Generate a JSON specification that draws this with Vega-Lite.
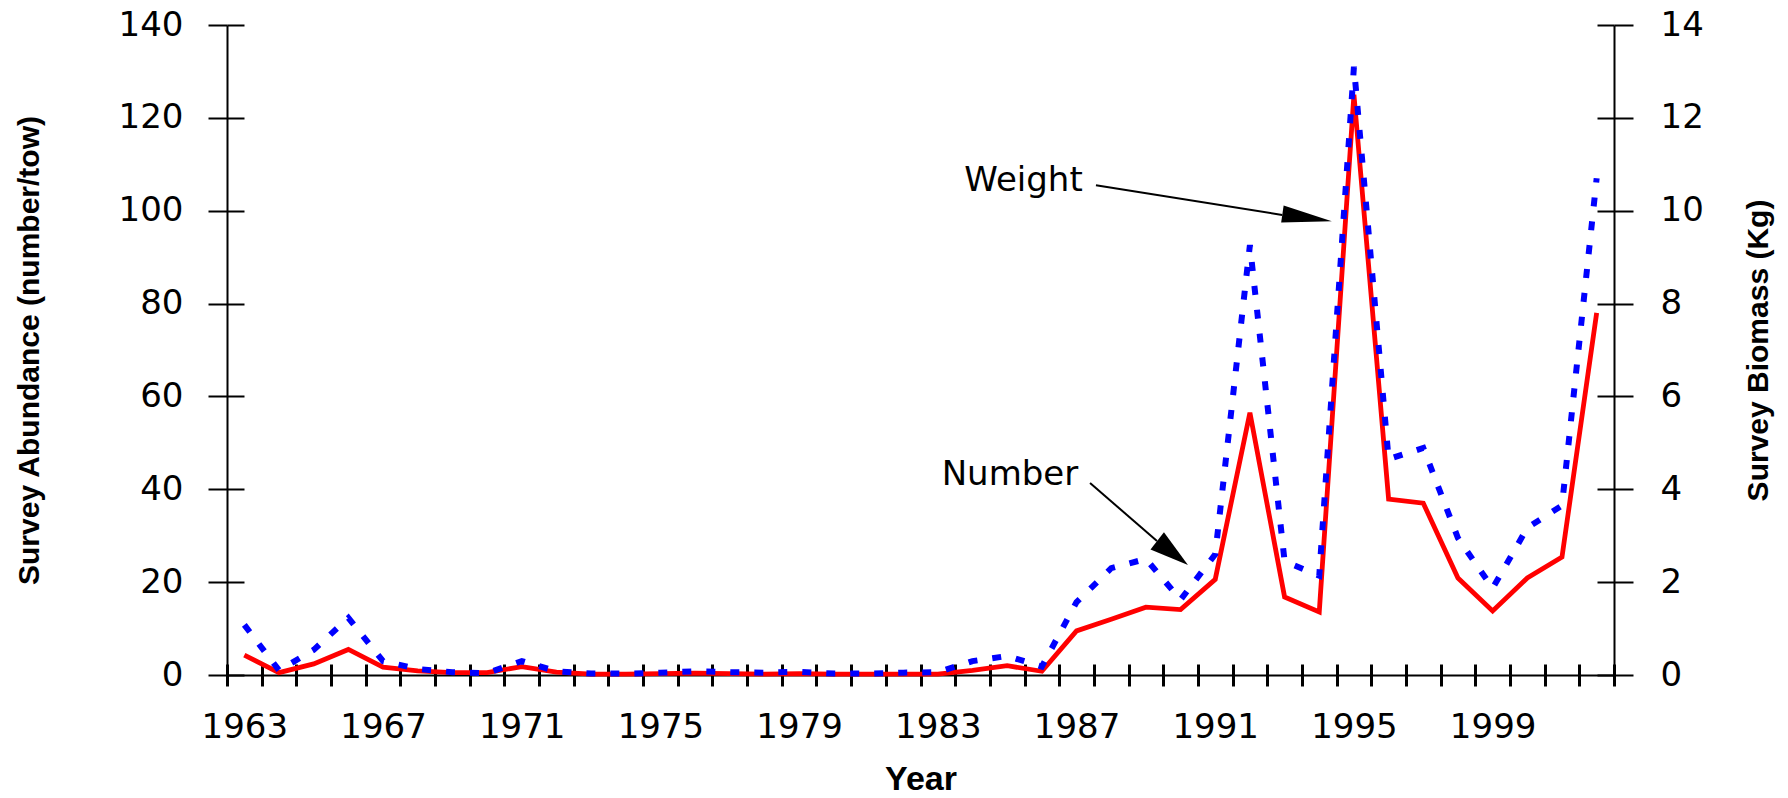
{
  "$schema": "https://vega.github.io/schema/vega-lite/v6.json",
  "width": 1387,
  "height": 650,
  "autosize": {"type": "none"},
  "padding": {"left": 227, "top": 25, "right": 174, "bottom": 123},
  "background": "white",
  "config": {
    "view": {"stroke": null},
    "axis": {"grid": false, "domainColor": "black", "tickColor": "black", "labelColor": "black", "titleColor": "black", "labelFont": "DejaVu Sans", "titleFont": "Liberation Sans", "labelFlush": false}
  },
  "datasets": {
    "survey": [
      {"year": 1963, "number": 4.3, "weight": 1.08},
      {"year": 1964, "number": 0.5, "weight": 0.1},
      {"year": 1965, "number": 2.4, "weight": 0.54},
      {"year": 1966, "number": 5.5, "weight": 1.23},
      {"year": 1967, "number": 1.7, "weight": 0.3},
      {"year": 1968, "number": 0.9, "weight": 0.13},
      {"year": 1969, "number": 0.5, "weight": 0.06},
      {"year": 1970, "number": 0.5, "weight": 0.04},
      {"year": 1971, "number": 1.8, "weight": 0.3},
      {"year": 1972, "number": 0.6, "weight": 0.08},
      {"year": 1973, "number": 0.2, "weight": 0.03},
      {"year": 1974, "number": 0.2, "weight": 0.03},
      {"year": 1975, "number": 0.3, "weight": 0.05},
      {"year": 1976, "number": 0.4, "weight": 0.08},
      {"year": 1977, "number": 0.3, "weight": 0.06},
      {"year": 1978, "number": 0.2, "weight": 0.05},
      {"year": 1979, "number": 0.3, "weight": 0.07},
      {"year": 1980, "number": 0.2, "weight": 0.03},
      {"year": 1981, "number": 0.2, "weight": 0.03},
      {"year": 1982, "number": 0.2, "weight": 0.05},
      {"year": 1983, "number": 0.2, "weight": 0.06},
      {"year": 1984, "number": 1.0, "weight": 0.3},
      {"year": 1985, "number": 2.0, "weight": 0.41},
      {"year": 1986, "number": 0.8, "weight": 0.18},
      {"year": 1987, "number": 9.5, "weight": 1.57},
      {"year": 1988, "number": 12.0, "weight": 2.3},
      {"year": 1989, "number": 14.6, "weight": 2.5},
      {"year": 1990, "number": 14.1, "weight": 1.62},
      {"year": 1991, "number": 20.6, "weight": 2.6},
      {"year": 1992, "number": 56.5, "weight": 9.26},
      {"year": 1993, "number": 16.8, "weight": 2.45},
      {"year": 1994, "number": 13.6, "weight": 2.14},
      {"year": 1995, "number": 125, "weight": 13.1},
      {"year": 1996, "number": 37.9, "weight": 4.65},
      {"year": 1997, "number": 37.0, "weight": 4.89},
      {"year": 1998, "number": 20.9, "weight": 2.95},
      {"year": 1999, "number": 13.8, "weight": 1.87},
      {"year": 2000, "number": 20.9, "weight": 3.17},
      {"year": 2001, "number": 25.4, "weight": 3.65},
      {"year": 2002, "number": 78.0, "weight": 10.7}
    ],
    "notes": [
      {"label": "Weight", "tx": 1985.47, "ty": 106.3, "lx1": 1987.56, "ly1": 105.5, "lx2": 1992.93, "ly2": 99.1, "hx": 1993.65, "hy": 98.5},
      {"label": "Number", "tx": 1985.08, "ty": 43.0, "lx1": 1987.39, "ly1": 41.35, "lx2": 1989.32, "ly2": 28.86, "hx": 1989.77, "hy": 26.3}
    ]
  },
  "resolve": {"scale": {"y": "independent"}, "axis": {"x": "independent", "y": "independent"}},
  "layer": [
    {
      "resolve": {"axis": {"x": "independent", "y": "independent"}},
      "layer": [
        {
          "data": {"name": "survey"},
          "mark": {"type": "line", "color": "#FF0000", "strokeWidth": 4.8, "strokeJoin": "miter"},
          "encoding": {
            "x": {"field": "year", "type": "quantitative", "scale": {"domain": [1962.5, 2002.5], "nice": false, "zero": false},
              "axis": {"orient": "bottom", "values": [1963, 1967, 1971, 1975, 1979, 1983, 1987, 1991, 1995, 1999], "format": "d", "ticks": false, "tickSize": 0, "domain": true, "domainWidth": 2, "labelPadding": 35, "labelFontSize": 34, "title": "Year", "titleFontSize": 34, "titleFontWeight": "bold", "titleX": 693.5, "titleY": 104, "titleBaseline": "middle", "titleAlign": "center"}},
            "y": {"field": "number", "type": "quantitative", "scale": {"domain": [0, 140], "nice": false},
              "axis": {"orient": "left", "values": [0, 20, 40, 60, 80, 100, 120, 140], "format": "d", "tickSize": 19, "tickWidth": 2, "domainWidth": 2, "labelPadding": 25, "labelFontSize": 34, "title": "Survey Abundance (number/tow)", "titleFontSize": 30, "titleFontWeight": "bold", "titleAngle": 270, "titleX": -198, "titleY": 325, "titleAlign": "center", "titleBaseline": "middle"}}
          }
        },
        {
          "data": {"name": "notes"},
          "mark": {"type": "text", "font": "DejaVu Sans", "fontSize": 34, "align": "center", "baseline": "middle", "color": "black"},
          "encoding": {
            "x": {"field": "tx", "type": "quantitative", "scale": {"domain": [1962.5, 2002.5], "nice": false, "zero": false},
              "axis": {"orient": "bottom", "values": [1962.5, 1963.5, 1964.5, 1965.5, 1966.5, 1967.5, 1968.5, 1969.5, 1970.5, 1971.5, 1972.5, 1973.5, 1974.5, 1975.5, 1976.5, 1977.5, 1978.5, 1979.5, 1980.5, 1981.5, 1982.5, 1983.5, 1984.5, 1985.5, 1986.5, 1987.5, 1988.5, 1989.5, 1990.5, 1991.5, 1992.5, 1993.5, 1994.5, 1995.5, 1996.5, 1997.5, 1998.5, 1999.5, 2000.5, 2001.5, 2002.5], "tickSize": 22, "offset": -11, "tickWidth": 3, "domain": false, "labels": false, "title": null}},
            "y": {"field": "ty", "type": "quantitative", "scale": {"domain": [0, 140], "nice": false},
              "axis": {"orient": "left", "values": [0, 20, 40, 60, 80, 100, 120, 140], "tickSize": 17, "offset": -17, "tickWidth": 2, "domain": false, "labels": false, "title": null}},
            "text": {"field": "label"}
          }
        },
        {
          "data": {"name": "notes"},
          "mark": {"type": "rule", "color": "black", "strokeWidth": 2},
          "encoding": {
            "x": {"field": "lx1", "type": "quantitative", "scale": {"domain": [1962.5, 2002.5], "nice": false, "zero": false}, "axis": null},
            "y": {"field": "ly1", "type": "quantitative", "scale": {"domain": [0, 140], "nice": false}, "axis": null},
            "x2": {"field": "lx2"},
            "y2": {"field": "ly2"}
          }
        },
        {
          "data": {"name": "notes"},
          "transform": [{"filter": "datum.label === 'Weight'"}],
          "mark": {"type": "point", "shape": "M1,0L-1,-0.34L-1,0.34Z", "size": 2500, "angle": 8.4, "filled": true, "color": "black", "opacity": 1, "strokeWidth": 0},
          "encoding": {
            "x": {"field": "hx", "type": "quantitative", "scale": {"domain": [1962.5, 2002.5], "nice": false, "zero": false}, "axis": null},
            "y": {"field": "hy", "type": "quantitative", "scale": {"domain": [0, 140], "nice": false}, "axis": null}
          }
        },
        {
          "data": {"name": "notes"},
          "transform": [{"filter": "datum.label === 'Number'"}],
          "mark": {"type": "point", "shape": "M1,0L-1,-0.56L-1,0.56Z", "size": 1521, "angle": 38, "filled": true, "color": "black", "opacity": 1, "strokeWidth": 0},
          "encoding": {
            "x": {"field": "hx", "type": "quantitative", "scale": {"domain": [1962.5, 2002.5], "nice": false, "zero": false}, "axis": null},
            "y": {"field": "hy", "type": "quantitative", "scale": {"domain": [0, 140], "nice": false}, "axis": null}
          }
        }
      ]
    },
    {
      "data": {"name": "survey"},
      "resolve": {"axis": {"y": "independent"}},
      "layer": [
        {
          "mark": {"type": "line", "color": "#0000FF", "strokeWidth": 6, "strokeDash": [9, 15], "strokeCap": "butt"},
          "encoding": {
            "x": {"field": "year", "type": "quantitative", "scale": {"domain": [1962.5, 2002.5], "nice": false, "zero": false}, "axis": null},
            "y": {"field": "weight", "type": "quantitative", "scale": {"domain": [0, 14], "nice": false},
              "axis": {"orient": "right", "values": [0, 2, 4, 6, 8, 10, 12, 14], "format": "d", "tickSize": 19, "tickWidth": 2, "domainWidth": 2, "labelPadding": 27, "labelFontSize": 34, "title": "Survey Biomass (Kg)", "titleFontSize": 30, "titleFontWeight": "bold", "titleAngle": 270, "titleX": 144, "titleY": 325, "titleAlign": "center", "titleBaseline": "middle"}}
          }
        },
        {
          "mark": {"type": "point", "opacity": 0},
          "encoding": {
            "x": {"field": "year", "type": "quantitative", "scale": {"domain": [1962.5, 2002.5], "nice": false, "zero": false}, "axis": null},
            "y": {"field": "weight", "type": "quantitative", "scale": {"domain": [0, 14], "nice": false},
              "axis": {"orient": "right", "values": [0, 2, 4, 6, 8, 10, 12, 14], "tickSize": 17, "offset": -17, "tickWidth": 2, "domain": false, "labels": false, "title": null}}
          }
        }
      ]
    }
  ]
}
